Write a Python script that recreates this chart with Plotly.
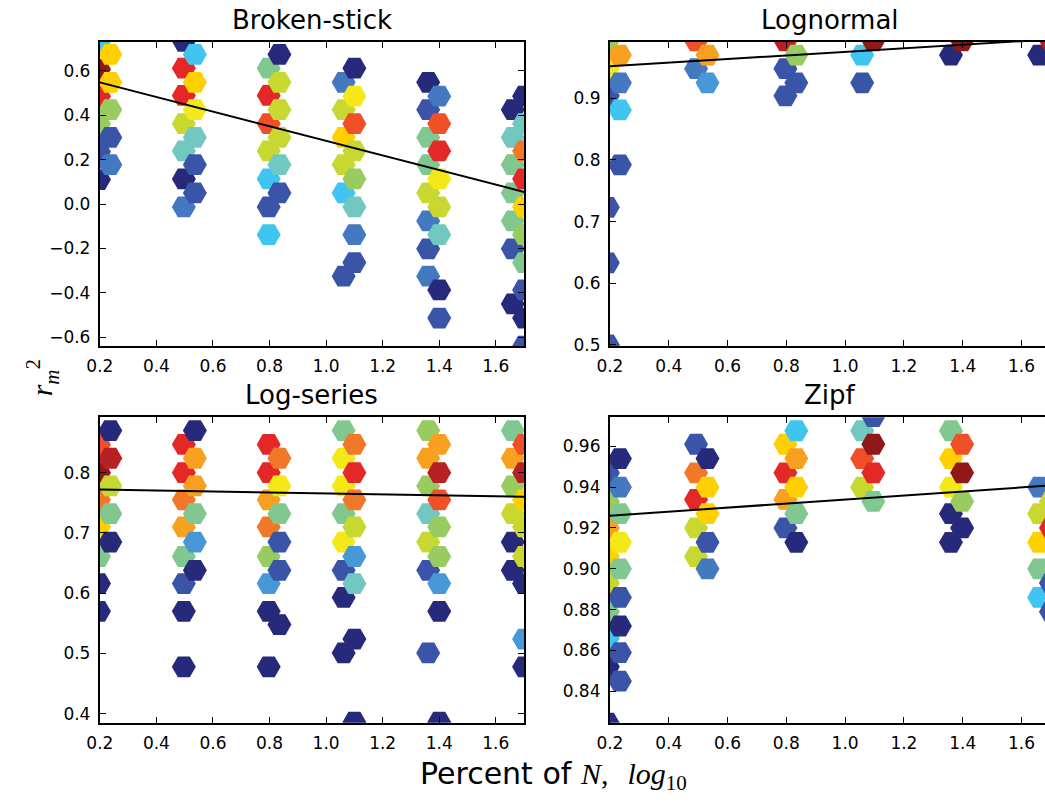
import plotly.graph_objects as go

W, H = 1045, 805

# colour levels (jet-like counts, low -> high)
PALETTE = ["#272a7a", "#3a55a8", "#4478c0", "#4898d8", "#40c4f0", "#70c8c0",
           "#80c890", "#98cc60", "#c8d830", "#f4e818", "#ffd000", "#f8a020",
           "#f07828", "#f05028", "#e42828", "#b82024", "#901818"]

# ---------------- Broken-stick ----------------
bs_cols = [0.197, 0.237, 0.497, 0.536, 0.797, 0.835, 1.062, 1.100, 1.361, 1.400, 1.660, 1.700]
bs_rows = [
    [0.733, 0.607, 0.486, 0.362, 0.236, 0.110],
    [0.674, 0.548, 0.425, 0.300, 0.177],
    [0.733, 0.612, 0.489, 0.362, 0.239, 0.113, -0.013],
    [0.674, 0.548, 0.425, 0.300, 0.177, 0.050],
    [0.612, 0.489, 0.362, 0.239, 0.113, -0.013, -0.138],
    [0.674, 0.548, 0.425, 0.300, 0.177, 0.050],
    [0.548, 0.425, 0.300, 0.177, 0.050, -0.325],
    [0.612, 0.486, 0.362, 0.239, 0.113, -0.013, -0.138, -0.264],
    [0.548, 0.425, 0.300, 0.177, 0.050, -0.076, -0.202, -0.325],
    [0.486, 0.362, 0.239, 0.113, -0.013, -0.138, -0.387, -0.514],
    [0.425, 0.300, 0.177, 0.050, -0.076, -0.202, -0.450],
    [0.486, 0.362, 0.239, 0.113, -0.013, -0.138, -0.264, -0.387, -0.514, -0.640],
]
bs_levels = [
    [4, 16, 14, 7, 1, 0],
    [10, 10, 7, 1, 2],
    [0, 14, 14, 8, 5, 0, 2],
    [4, 10, 9, 5, 1, 1],
    [6, 14, 13, 8, 4, 1, 4],
    [0, 8, 8, 8, 5, 1],
    [2, 8, 10, 8, 4, 1],
    [0, 9, 13, 8, 7, 5, 2, 1],
    [0, 1, 6, 6, 8, 2, 1, 2],
    [2, 13, 14, 9, 8, 5, 0, 1],
    [0, 5, 6, 6, 6, 1, 0],
    [0, 5, 12, 14, 10, 7, 6, 1, 0, 1],
]
bs_fit = [0.548, -0.329]   # value at x=0.2, slope

# ---------------- Lognormal ----------------
ln_cols = [0.193, 0.234, 0.493, 0.532, 0.797, 0.834, 1.058, 1.096, 1.360, 1.398, 1.660, 1.700]
ln_rows = [
    [0.993, 0.948, 0.904, 0.723, 0.633, 0.500],
    [0.970, 0.925, 0.881, 0.792],
    [0.993, 0.948],
    [0.970, 0.925],
    [0.993, 0.948, 0.904],
    [0.970, 0.925],
    [0.970, 0.925],
    [0.993],
    [0.970],
    [0.993],
    [0.970],
    [0.993],
]
ln_levels = [
    [7, 9, 1, 1, 1, 1],
    [11, 2, 4, 1],
    [13, 2],
    [11, 3],
    [15, 1, 1],
    [7, 1],
    [4, 1],
    [16],
    [0],
    [16],
    [0],
    [15],
]
ln_fit = [0.952, 0.029]

# ---------------- Log-series ----------------
ls_cols = [0.197, 0.237, 0.497, 0.536, 0.797, 0.835, 1.062, 1.100, 1.361, 1.400, 1.660, 1.700]
ls_rows = [
    [0.847, 0.800, 0.755, 0.710, 0.661, 0.616, 0.570],
    [0.870, 0.824, 0.778, 0.732, 0.685],
    [0.847, 0.800, 0.755, 0.710, 0.661, 0.616, 0.570, 0.478],
    [0.870, 0.824, 0.778, 0.732, 0.685, 0.638],
    [0.847, 0.800, 0.755, 0.710, 0.661, 0.616, 0.570, 0.478],
    [0.824, 0.778, 0.732, 0.685, 0.638, 0.548],
    [0.870, 0.824, 0.778, 0.732, 0.685, 0.638, 0.593, 0.501],
    [0.847, 0.800, 0.755, 0.710, 0.661, 0.616, 0.524, 0.386],
    [0.870, 0.824, 0.778, 0.732, 0.685, 0.638, 0.501],
    [0.847, 0.800, 0.755, 0.710, 0.661, 0.616, 0.570, 0.386],
    [0.870, 0.824, 0.778, 0.732, 0.685, 0.638],
    [0.847, 0.800, 0.755, 0.710, 0.661, 0.616, 0.524, 0.478],
]
ls_levels = [
    [13, 16, 12, 10, 6, 0, 0],
    [0, 15, 8, 6, 0],
    [14, 14, 12, 11, 6, 1, 0, 0],
    [0, 11, 11, 6, 3, 0],
    [14, 14, 11, 12, 7, 3, 0, 0],
    [12, 9, 6, 1, 1, 0],
    [6, 9, 9, 6, 9, 1, 0, 0],
    [12, 14, 12, 8, 3, 5, 0, 0],
    [7, 11, 7, 5, 8, 1, 1],
    [11, 15, 13, 7, 7, 3, 0, 0],
    [6, 11, 7, 8, 0, 0],
    [13, 15, 10, 8, 8, 0, 3, 0],
]
ls_fit = [0.772, -0.008]

# ---------------- Zipf ----------------
zf_cols = [0.193, 0.234, 0.493, 0.532, 0.797, 0.834, 1.058, 1.096, 1.360, 1.398, 1.660, 1.700]
zf_rows = [
    [0.947, 0.933, 0.920, 0.906, 0.893, 0.879, 0.866, 0.852, 0.8245],
    [0.954, 0.940, 0.927, 0.913, 0.900, 0.886, 0.872, 0.859, 0.845],
    [0.961, 0.947, 0.934, 0.920, 0.906],
    [0.954, 0.940, 0.927, 0.913, 0.900],
    [0.961, 0.947, 0.934, 0.920],
    [0.9676, 0.954, 0.940, 0.927, 0.913],
    [0.9676, 0.954, 0.940],
    [0.9745, 0.961, 0.947, 0.933],
    [0.9676, 0.954, 0.940, 0.927, 0.913],
    [0.961, 0.947, 0.933, 0.920],
    [0.940, 0.927, 0.913, 0.900, 0.886],
    [0.933, 0.920, 0.893, 0.879],
]
zf_levels = [
    [1, 7, 11, 10, 8, 6, 4, 0, 0],
    [0, 2, 6, 9, 6, 1, 0, 1, 1],
    [1, 12, 14, 8, 8],
    [0, 10, 10, 1, 2],
    [10, 14, 11, 1],
    [4, 11, 10, 6, 0],
    [5, 13, 8],
    [1, 16, 14, 6],
    [6, 10, 9, 0, 0],
    [13, 16, 7, 0],
    [2, 8, 10, 6, 4],
    [8, 14, 1, 1],
]
zf_fit = [0.926, 0.0099]

titles = ["Broken-stick", "Lognormal", "Log-series", "Zipf"]
x_ticks = [0.2, 0.4, 0.6, 0.8, 1.0, 1.2, 1.4, 1.6]
y_ticks = [
    [-0.6, -0.4, -0.2, 0.0, 0.2, 0.4, 0.6],
    [0.5, 0.6, 0.7, 0.8, 0.9],
    [0.4, 0.5, 0.6, 0.7, 0.8],
    [0.84, 0.86, 0.88, 0.90, 0.92, 0.94, 0.96],
]
y_ranges = [[-0.64, 0.732], [0.498, 0.992], [0.385, 0.892], [0.8246, 0.9742]]

# ---------------- layout geometry (pixels) ----------------
L_LEFT, L_RIGHT = 87, 517
R_LEFT, R_RIGHT_NOMINAL = 604, 1051
TOP_T, TOP_B = 42, 350
BOT_T, BOT_B = 422, 731
X_RANGE_LEFT = [0.2, 1.7]
X_RANGE_RIGHT = [0.2, 0.2 + 1.5 * (W - R_LEFT) / (R_RIGHT_NOMINAL - R_LEFT)]

colorscale = [[i / (len(PALETTE) - 1), c] for i, c in enumerate(PALETTE)]

fig = go.Figure()

panels = [
    (bs_cols, bs_rows, bs_levels, bs_fit),
    (ln_cols, ln_rows, ln_levels, ln_fit),
    (ls_cols, ls_rows, ls_levels, ls_fit),
    (zf_cols, zf_rows, zf_levels, zf_fit),
]

for i, (cols, rows, levels, fit) in enumerate(panels):
    xs, ys, cs = [], [], []
    for cx, rr, ll in zip(cols, rows, levels):
        for ry, lv in zip(rr, ll):
            xs.append(cx)
            ys.append(ry)
            cs.append(lv)
    ax = "" if i == 0 else str(i + 1)
    fig.add_trace(go.Scatter(
        x=xs, y=ys, mode="markers",
        marker=dict(symbol="hexagon2", size=24, color=cs, colorscale=colorscale,
                    cmin=0, cmax=len(PALETTE) - 1, line=dict(width=0)),
        hoverinfo="skip", showlegend=False,
        xaxis="x" + ax, yaxis="y" + ax, cliponaxis=True,
    ))
    x0, x1 = 0.2, 1.7
    fig.add_trace(go.Scatter(
        x=[x0, x1], y=[fit[0], fit[0] + fit[1] * (x1 - x0)], mode="lines",
        line=dict(color="black", width=2), hoverinfo="skip", showlegend=False,
        xaxis="x" + ax, yaxis="y" + ax,
    ))

tick_font = dict(family="DejaVu Sans", size=17, color="black")


def fmt(v, nd):
    s = f"{abs(v):.{nd}f}"
    return ("\u2212" + s) if v < 0 else s


layout = dict(
    width=W, height=H, paper_bgcolor="white", plot_bgcolor="white",
    margin=dict(l=0, r=0, t=0, b=0), showlegend=False,
)
geo = [
    ((L_LEFT / W, L_RIGHT / W), (1 - TOP_B / H, 1 - TOP_T / H), X_RANGE_LEFT, True),
    ((R_LEFT / W, 1.0), (1 - TOP_B / H, 1 - TOP_T / H), X_RANGE_RIGHT, False),
    ((L_LEFT / W, L_RIGHT / W), (1 - BOT_B / H, 1 - BOT_T / H), X_RANGE_LEFT, True),
    ((R_LEFT / W, 1.0), (1 - BOT_B / H, 1 - BOT_T / H), X_RANGE_RIGHT, False),
]
ndec = [1, 1, 1, 2]
annotations = []
for i, (xd, yd, xr, right_spine) in enumerate(geo):
    ax = "" if i == 0 else str(i + 1)
    layout["xaxis" + ax] = dict(
        domain=list(xd), range=xr, anchor="y" + ax,
        tickmode="array", tickvals=x_ticks, ticktext=[f"{v:.1f}" for v in x_ticks],
        ticks="inside", ticklen=6, tickwidth=1, tickcolor="black",
        showline=True, linecolor="black", linewidth=2, mirror="allticks",
        showgrid=False, zeroline=False, tickfont=tick_font, ticklabelstandoff=4,
    )
    layout["yaxis" + ax] = dict(
        domain=list(yd), range=y_ranges[i], anchor="x" + ax,
        tickmode="array", tickvals=y_ticks[i],
        ticktext=[fmt(v, ndec[i]) for v in y_ticks[i]],
        ticks="inside", ticklen=6, tickwidth=1, tickcolor="black",
        showline=True, linecolor="black", linewidth=2,
        mirror="allticks" if right_spine else False,
        showgrid=False, zeroline=False, tickfont=tick_font, ticklabelstandoff=4,
    )
    left = L_LEFT if i % 2 == 0 else R_LEFT
    right = L_RIGHT if i % 2 == 0 else R_RIGHT_NOMINAL
    top = TOP_T if i < 2 else BOT_T
    annotations.append(dict(
        text=titles[i], xref="paper", yref="paper",
        x=(left + right) / 2 / W, y=1 - (top - 5) / H,
        xanchor="center", yanchor="bottom", showarrow=False,
        font=dict(family="DejaVu Sans", size=26, color="black"),
    ))

annotations.append(dict(
    text='Percent of <span style="font-family:Liberation Serif"><i>N</i>,</span>'
         '  <span style="font-family:Liberation Serif"><i>log</i><sub>10</sub></span>',
    xref="paper", yref="paper", x=547 / W, y=1 - 784 / H,
    xanchor="center", yanchor="middle", showarrow=False,
    font=dict(family="DejaVu Sans", size=30, color="black"),
))
annotations.append(dict(
    text="<i>r</i><sub><i>m</i></sub><sup>2</sup>",
    xref="paper", yref="paper", x=29 / W, y=1 - 382 / H,
    xanchor="center", yanchor="middle", showarrow=False, textangle=-90,
    font=dict(family="Liberation Serif", size=30, color="black"),
))
layout["annotations"] = annotations
fig.update_layout(**layout)

fig.write_html("out.html", config={"displayModeBar": False},
               post_script="document.body.style.margin='0';")
